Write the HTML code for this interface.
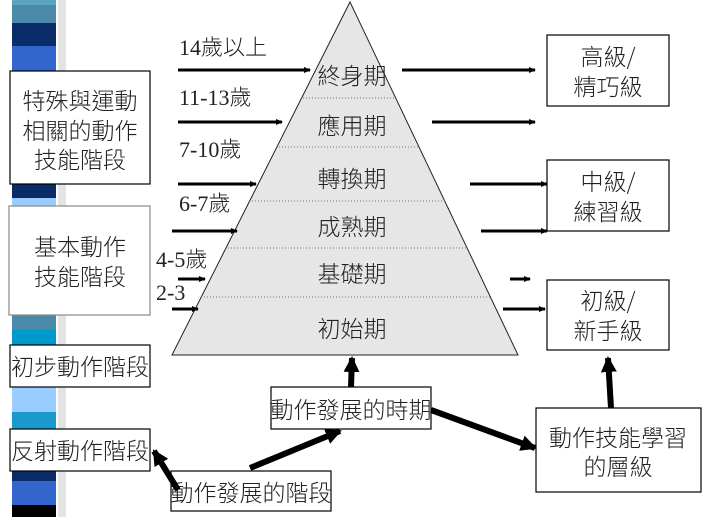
<!DOCTYPE html>
<html><head><meta charset="utf-8"><style>
body{margin:0;background:#fff;}
svg text{font-family:"Liberation Serif","Noto Sans CJK TC",sans-serif;fill:#222;}
.c{font-family:"Noto Sans CJK TC","Liberation Sans",sans-serif;font-size:23px;font-weight:300;}
</style></head><body>
<svg width="702" height="517" viewBox="0 0 702 517" xmlns="http://www.w3.org/2000/svg">
<defs>
<marker id="a" markerWidth="8" markerHeight="8" refX="6" refY="3" orient="auto" markerUnits="userSpaceOnUse"><path d="M0,0 L7,3 L0,6z" fill="#000"/></marker>
<marker id="b" markerWidth="20" markerHeight="20" refX="14" refY="8" orient="auto" markerUnits="userSpaceOnUse"><path d="M0,0 L16,8 L0,16z" fill="#000"/></marker>
<clipPath id="p"><polygon points="350,2 172,355 518,355"/></clipPath>
</defs>
<rect x="58" y="0" width="8" height="517" fill="#e4e4e4"/>
<rect x="12" y="0" width="44" height="5" fill="#5aa6c0"/>
<rect x="12" y="5" width="44" height="18" fill="#4a8aa8"/>
<rect x="12" y="23" width="44" height="23" fill="#0a2d6a"/>
<rect x="12" y="46" width="44" height="25" fill="#3366cc"/>
<rect x="12" y="184" width="44" height="14" fill="#0a2d6a"/>
<rect x="12" y="198" width="44" height="10" fill="#99ccff"/>
<rect x="12" y="315" width="44" height="15" fill="#4a8aa8"/>
<rect x="12" y="330" width="44" height="15" fill="#0099cc"/>
<rect x="12" y="387" width="44" height="25" fill="#99ccff"/>
<rect x="12" y="412" width="44" height="17" fill="#1a99cc"/>
<rect x="12" y="471" width="44" height="10" fill="#0a2d6a"/>
<rect x="12" y="481" width="44" height="24" fill="#3366cc"/>
<rect x="12" y="505" width="44" height="12" fill="#000"/>
<polygon points="350,2 172,355 518,355" fill="#e6e6e6" stroke="#222" stroke-width="1"/>
<g clip-path="url(#p)" stroke="#777" stroke-dasharray="1,2" stroke-width="1">
<line x1="0" y1="98" x2="702" y2="98"/><line x1="0" y1="147" x2="702" y2="147"/>
<line x1="0" y1="201" x2="702" y2="201"/><line x1="0" y1="248" x2="702" y2="248"/>
<line x1="0" y1="297" x2="702" y2="297"/></g>
<g text-anchor="middle">
<text x="352" y="84" class="c">終身期</text><text x="352" y="134" class="c">應用期</text>
<text x="352" y="187" class="c">轉換期</text><text x="352" y="235" class="c">成熟期</text>
<text x="352" y="282" class="c">基礎期</text><text x="352" y="337" class="c">初始期</text>
</g>
<g stroke="#000" stroke-width="3" marker-end="url(#a)">
<line x1="178" y1="70" x2="310" y2="70"/><line x1="178" y1="122" x2="282" y2="122"/>
<line x1="178" y1="184" x2="256" y2="184"/><line x1="172" y1="231" x2="237" y2="231"/>
<line x1="178" y1="279" x2="205" y2="279"/><line x1="172" y1="309" x2="198" y2="309"/>
<line x1="402" y1="70" x2="535" y2="70"/><line x1="432" y1="122" x2="535" y2="122"/>
<line x1="470" y1="184" x2="547" y2="184"/><line x1="481" y1="231" x2="547" y2="231"/>
<line x1="510" y1="279" x2="530" y2="279"/><line x1="503" y1="309" x2="545" y2="309"/>
</g>
<g font-size="22">
<text x="179" y="55">14<tspan class="c" style="font-size:22px">歲以上</tspan></text>
<text x="179" y="105">11-13<tspan class="c" style="font-size:22px">歲</tspan></text>
<text x="179" y="157">7-10<tspan class="c" style="font-size:22px">歲</tspan></text>
<text x="179" y="211">6-7<tspan class="c" style="font-size:22px">歲</tspan></text>
<text x="156" y="267">4-5<tspan class="c" style="font-size:22px">歲</tspan></text>
<text x="156" y="300">2-3</text>
</g>
<g fill="#fff" stroke="#000" stroke-width="1.2">
<rect x="10" y="71" width="140" height="113"/><rect x="9" y="206" width="141" height="109" stroke="#888"/>
<rect x="10" y="345" width="140" height="42"/><rect x="10" y="429" width="140" height="42"/>
<rect x="171" y="471" width="160" height="40"/><rect x="271" y="387" width="160" height="42"/>
<rect x="536" y="408" width="165" height="84"/>
<rect x="547" y="35" width="122" height="71"/><rect x="547" y="160" width="122" height="71"/>
<rect x="547" y="280" width="122" height="70"/>
</g>
<g text-anchor="middle">
<text x="80" y="109" class="c">特殊與運動</text><text x="80" y="139" class="c">相關的動作</text><text x="80" y="168" class="c">技能階段</text>
<text x="80" y="255" class="c">基本動作</text><text x="80" y="285" class="c">技能階段</text>
<text x="80" y="375" class="c">初步動作階段</text><text x="80" y="459" class="c">反射動作階段</text>
<text x="251" y="501" class="c">動作發展的階段</text><text x="351" y="418" class="c">動作發展的時期</text>
<text x="618" y="446" class="c">動作技能學習</text><text x="618" y="475" class="c">的層級</text>
<text x="608" y="65" class="c">高級/</text><text x="608" y="95" class="c">精巧級</text>
<text x="608" y="190" class="c">中級/</text><text x="608" y="220" class="c">練習級</text>
<text x="608" y="309" class="c">初級/</text><text x="608" y="339" class="c">新手級</text>
</g>
<g stroke="#000" stroke-width="6" marker-end="url(#b)">
<line x1="351" y1="387" x2="352" y2="358"/>
<line x1="250" y1="468" x2="340" y2="431"/>
<line x1="431" y1="410" x2="535" y2="448"/>
<line x1="611" y1="408" x2="608" y2="358"/>
<line x1="178" y1="490" x2="154" y2="451"/>
</g>
</svg>
</body></html>
